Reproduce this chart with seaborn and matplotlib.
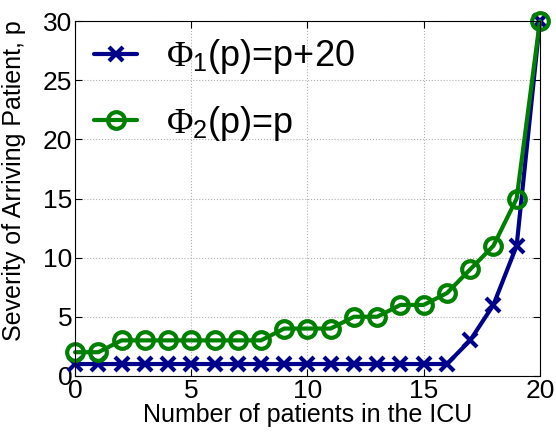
import matplotlib
matplotlib.use("Agg")
import matplotlib.pyplot as plt
import seaborn as sns
import pandas as pd

# data
n_patients = list(range(21))
phi1_vals = [1, 1, 1, 1, 1, 1, 1, 1, 1, 1, 1, 1, 1, 1, 1, 1, 1, 3, 6, 11, 30]
phi2_vals = [2, 2, 3, 3, 3, 3, 3, 3, 3, 4, 4, 4, 5, 5, 6, 6, 7, 9, 11, 15, 30]
labels = [r'$\Phi_{\mathsf{1}}$(p)=p+20', r'$\Phi_{\mathsf{2}}$(p)=p']

sns.set_style("ticks")
plt.rcParams['font.family'] = ['Liberation Sans', 'DejaVu Sans']
plt.rcParams['mathtext.fontset'] = 'custom'
plt.rcParams['mathtext.rm'] = 'Liberation Serif'
plt.rcParams['mathtext.it'] = 'Liberation Serif'
plt.rcParams['mathtext.sf'] = 'Liberation Sans'
plt.rcParams['text.color'] = 'black'
plt.rcParams['axes.labelcolor'] = 'black'
plt.rcParams['xtick.color'] = 'black'
plt.rcParams['ytick.color'] = 'black'

df = pd.DataFrame({'n': n_patients, 'phi1': phi1_vals, 'phi2': phi2_vals})

fig = plt.figure(figsize=(5.56, 4.33), dpi=100)
ax = fig.add_axes([0.135, 0.132, 0.836, 0.819])

blue = '#00008B'
green = '#008000'
sns.lineplot(data=df, x='n', y='phi1', ax=ax, color=blue, lw=3,
             marker='x', markersize=10, mew=3, mec=blue, label=labels[0], clip_on=False)
sns.lineplot(data=df, x='n', y='phi2', ax=ax, color=green, lw=3,
             marker='o', markersize=12, mew=3, mfc='none', mec=green,
             label=labels[1], clip_on=False)

ax.set_xlim(0, 20)
ax.set_ylim(0, 30)
ax.set_xticks([0, 5, 10, 15, 20])
ax.set_yticks([0, 5, 10, 15, 20, 25, 30])
ax.tick_params(direction='in', labelsize=19, length=5, top=True, right=True, pad=2)
ax.grid(True, linestyle=':', color='#b0b0b0', lw=0.8)
for s in ax.spines.values():
    s.set_color('black')
    s.set_linewidth(0.8)

ax.set_xlabel('Number of patients in the ICU', fontsize=18, labelpad=0)
ax.set_ylabel('Severity of Arriving Patient, p', fontsize=18, labelpad=0)
ax.yaxis.set_label_coords(-0.105, 0.55)

leg = ax.legend(loc='upper left', frameon=False, fontsize=26, handlelength=1.2,
                handletextpad=0.8, borderaxespad=0.0, labelspacing=0.75,
                bbox_to_anchor=(0.01, 0.995))

fig.savefig('out.png', dpi=100)
